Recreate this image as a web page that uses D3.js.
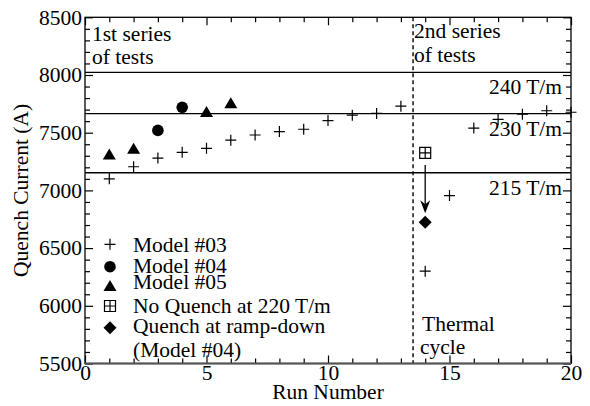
<!DOCTYPE html>
<html>
<head>
<meta charset="utf-8">
<script src="https://cdn.jsdelivr.net/npm/d3@7"></script>
<style>
  body { margin: 0; background: #fff; }
  svg text { font-family: "Liberation Serif", Tinos, "Times New Roman", Times, "DejaVu Serif", serif !important; fill: #000; }
</style>
</head>
<body>
<div id="container"></div>
<script>
/* DATA */
const runs03 = [1, 2, 3, 4, 5, 6, 7, 8, 9, 10, 11, 12, 13, 14, 15, 16, 17, 18, 19, 20];
const current03 = [7100, 7205, 7280, 7330, 7365, 7435, 7480, 7510, 7530, 7605, 7652, 7667, 7730, 6300, 6955, 7540, 7615, 7660, 7690, 7677];
const runs04 = [3, 4];
const current04 = [7520, 7720];
const runs05 = [1, 2, 5, 6];
const current05 = [7312, 7360, 7680, 7756];
const noQuenchRun = [14];
const noQuenchCurrent = [7325];
const rampDownRun = [14];
const rampDownCurrent = [6725];
const gradientLabels = ["240 T/m", "230 T/m", "215 T/m"];
const gradientCurrent = [8023, 7665, 7153];
const seriesBreak = 13.5;
const legendLabels = ["Model #03", "Model #04", "Model #05", "No Quench at 220 T/m", "Quench at ramp-down"];
const xTicks = [0, 5, 10, 15, 20];
const yTicks = [5500, 6000, 6500, 7000, 7500, 8000, 8500];

/* CONSTANTS */
const width = 590;
const height = 406;
const mLeft = 85, mRight = 571, mTop = 17.3, mBottom = 363.5;
const fontSize = 21.5;

const svg = d3.select("#container")
  .append("svg")
  .attr("width", width)
  .attr("height", height);

/* SCALES */
const xScale = d3.scaleLinear().domain([0, 20]).range([mLeft, mRight]);
const yScale = d3.scaleLinear().domain([5500, 8500]).range([mBottom, mTop]);

// symbols
const plus = s => `M${-s},0H${s}M0,${-s}V${s}`;
function drawPlus(g, x, y) {
  g.append("path").attr("d", plus(5.5)).attr("transform", `translate(${x},${y})`)
    .attr("stroke", "#000").attr("stroke-width", 1.2).attr("fill", "none");
}
function drawCircle(g, x, y) {
  g.append("circle").attr("cx", x).attr("cy", y).attr("r", 5.8).attr("fill", "#000");
}
function drawTriangle(g, x, y) {
  g.append("path").attr("d", "M0,-6L6.5,5L-6.5,5Z").attr("transform", `translate(${x},${y})`).attr("fill", "#000");
}
function drawBoxPlus(g, x, y) {
  g.append("path").attr("d", "M-5.5,-5.5H5.5V5.5H-5.5ZM-5.5,0H5.5M0,-5.5V5.5")
    .attr("transform", `translate(${x},${y})`)
    .attr("stroke", "#000").attr("stroke-width", 1.2).attr("fill", "#fff");
}
function drawDiamond(g, x, y) {
  g.append("path").attr("d", "M0,-6.5L6.5,0L0,6.5L-6.5,0Z").attr("transform", `translate(${x},${y})`).attr("fill", "#000");
}

/* REFERENCE LINES */
svg.selectAll(".gradient")
  .data(gradientCurrent)
  .join("line")
  .attr("class", "gradient")
  .attr("x1", mLeft).attr("x2", mRight)
  .attr("y1", d => yScale(d)).attr("y2", d => yScale(d))
  .attr("stroke", "#000").attr("stroke-width", 1.3);

svg.selectAll(".gradient-label")
  .data(gradientLabels)
  .join("text")
  .attr("class", "gradient-label")
  .attr("x", 562)
  .attr("y", (d, i) => yScale(gradientCurrent[i]) + 22)
  .attr("text-anchor", "end")
  .attr("font-size", fontSize)
  .text(d => d);

svg.append("line")
  .attr("x1", xScale(seriesBreak)).attr("x2", xScale(seriesBreak))
  .attr("y1", mTop).attr("y2", mBottom)
  .attr("stroke", "#000").attr("stroke-width", 1.4)
  .attr("stroke-dasharray", "4,3");

/* AXES */
const axisStyle = g => {
  g.attr("font-family", null);
  g.select(".domain").remove();
  g.selectAll("line").attr("stroke", "#000").attr("stroke-width", 1.2);
  g.selectAll("text").attr("font-size", fontSize);
};
const minorX = d3.range(0, 21, 1).filter(d => d % 5 !== 0);
const minorY = d3.range(5500, 8501, 100).filter(d => d % 500 !== 0);

svg.append("g").attr("transform", `translate(0,${mBottom})`)
  .call(d3.axisBottom(xScale).tickValues(xTicks).tickSize(-8).tickPadding(1).tickFormat(d3.format("d")))
  .call(axisStyle);
svg.append("g").attr("transform", `translate(0,${mBottom})`)
  .call(d3.axisBottom(xScale).tickValues(minorX).tickSize(-5).tickFormat(""))
  .call(axisStyle);
svg.append("g").attr("transform", `translate(0,${mTop})`)
  .call(d3.axisTop(xScale).tickValues(xTicks).tickSize(-8).tickFormat(""))
  .call(axisStyle);
svg.append("g").attr("transform", `translate(0,${mTop})`)
  .call(d3.axisTop(xScale).tickValues(minorX).tickSize(-5).tickFormat(""))
  .call(axisStyle);
svg.append("g").attr("transform", `translate(${mLeft},0)`)
  .call(d3.axisLeft(yScale).tickValues(yTicks).tickSize(-8).tickPadding(3).tickFormat(d3.format("d")))
  .call(axisStyle);
svg.append("g").attr("transform", `translate(${mLeft},0)`)
  .call(d3.axisLeft(yScale).tickValues(minorY).tickSize(-5).tickFormat(""))
  .call(axisStyle);
svg.append("g").attr("transform", `translate(${mRight},0)`)
  .call(d3.axisRight(yScale).tickValues(yTicks).tickSize(-8).tickFormat(""))
  .call(axisStyle);
svg.append("g").attr("transform", `translate(${mRight},0)`)
  .call(d3.axisRight(yScale).tickValues(minorY).tickSize(-5).tickFormat(""))
  .call(axisStyle);

// frame
svg.append("rect")
  .attr("x", mLeft).attr("y", mTop)
  .attr("width", mRight - mLeft).attr("height", mBottom - mTop)
  .attr("fill", "none").attr("stroke", "#000").attr("stroke-width", 1.3);
svg.append("line")
  .attr("x1", mLeft).attr("x2", mRight).attr("y1", mBottom).attr("y2", mBottom)
  .attr("stroke", "#555").attr("stroke-width", 2);

/* POINTS */
const pts = svg.append("g");
runs03.forEach((r, i) => drawPlus(pts, xScale(r), yScale(current03[i])));
runs04.forEach((r, i) => drawCircle(pts, xScale(r), yScale(current04[i])));
runs05.forEach((r, i) => drawTriangle(pts, xScale(r), yScale(current05[i])));
noQuenchRun.forEach((r, i) => drawBoxPlus(pts, xScale(r), yScale(noQuenchCurrent[i])));
rampDownRun.forEach((r, i) => drawDiamond(pts, xScale(r), yScale(rampDownCurrent[i])));

// arrow from no-quench to ramp-down quench
const ax = xScale(noQuenchRun[0]);
const ay1 = yScale(noQuenchCurrent[0]) + 12;
const ay2 = yScale(rampDownCurrent[0]) - 9;
svg.append("line")
  .attr("x1", ax).attr("x2", ax).attr("y1", ay1).attr("y2", ay2 - 8)
  .attr("stroke", "#000").attr("stroke-width", 1.3);
svg.append("path")
  .attr("d", "M0,0L-5,-13L0,-9L5,-13Z")
  .attr("transform", `translate(${ax},${ay2})`)
  .attr("fill", "#000");

/* TEXT */
const annot = [
  ["1st series", 92, 41],
  ["of tests", 92, 64],
  ["2nd series", 414, 38],
  ["of tests", 414, 61.5],
  ["Thermal", 422, 331],
  ["cycle", 420, 354]
];
svg.selectAll(".annot")
  .data(annot)
  .join("text")
  .attr("class", "annot")
  .attr("x", d => d[1]).attr("y", d => d[2])
  .attr("font-size", fontSize)
  .text(d => d[0]);

/* LEGEND */
const legend = svg.append("g");
const legY = [244.3, 266.7, 286, 306, 327.7];
const legBase = [251.7, 272.7, 289.3, 312.7, 333.3];
const legDraw = [drawPlus, drawCircle, drawTriangle, drawBoxPlus, drawDiamond];
legendLabels.forEach((lab, i) => {
  legDraw[i](legend, 110, legY[i]);
  legend.append("text").attr("x", 133).attr("y", legBase[i]).attr("font-size", fontSize).text(lab);
});
legend.append("text").attr("x", 133).attr("y", 356.7).attr("font-size", fontSize).text("(Model #04)");

/* AXIS TITLES */
svg.append("text")
  .attr("x", (mLeft + mRight) / 2).attr("y", 399)
  .attr("text-anchor", "middle")
  .attr("font-size", fontSize)
  .text("Run Number");
svg.append("text")
  .attr("transform", `translate(28,${(mTop + mBottom) / 2}) rotate(-90)`)
  .attr("text-anchor", "middle")
  .attr("font-size", fontSize)
  .text("Quench Current (A)");
</script>
</body>
</html>
